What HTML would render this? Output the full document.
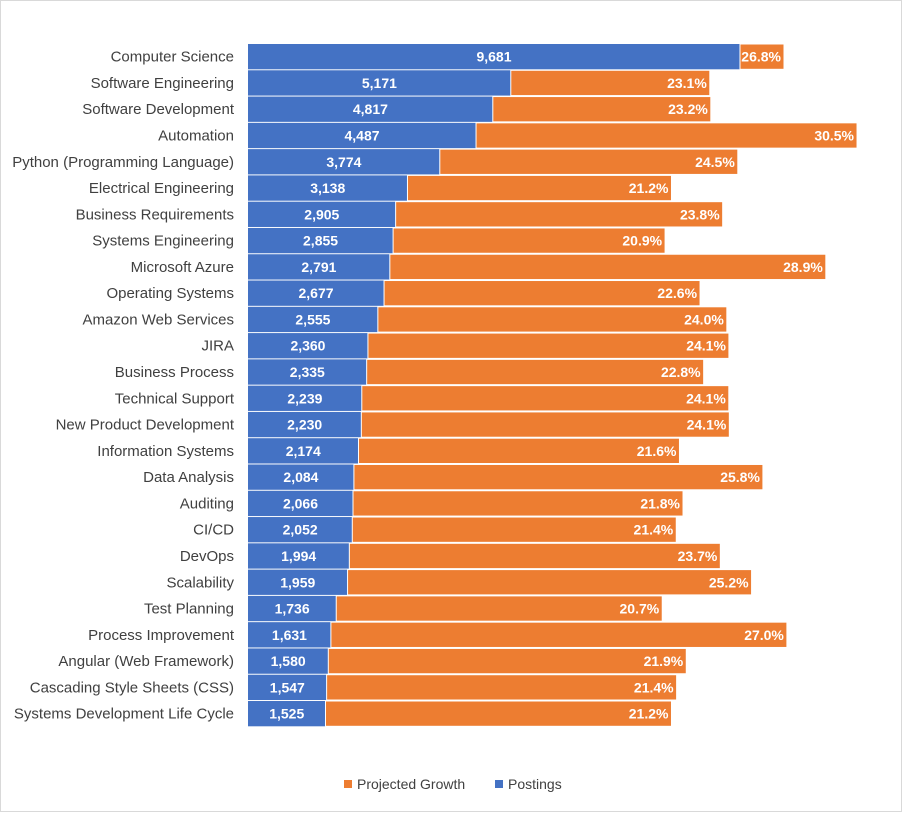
<!DOCTYPE html>
<html><head><meta charset="utf-8"><style>
body{margin:0;background:#fff;font-family:"Liberation Sans",Arial,sans-serif}
#wrap{position:relative;width:902px;height:812px;box-sizing:border-box;border:1px solid #d9d9d9}
</style></head><body>
<div id="wrap">
<svg id="chart" width="900" height="810"></svg>
</div>
<script>
const categories=["Computer Science","Software Engineering","Software Development","Automation","Python (Programming Language)","Electrical Engineering","Business Requirements","Systems Engineering","Microsoft Azure","Operating Systems","Amazon Web Services","JIRA","Business Process","Technical Support","New Product Development","Information Systems","Data Analysis","Auditing","CI/CD","DevOps","Scalability","Test Planning","Process Improvement","Angular (Web Framework)","Cascading Style Sheets (CSS)","Systems Development Life Cycle"];
const postings=[9681,5171,4817,4487,3774,3138,2905,2855,2791,2677,2555,2360,2335,2239,2230,2174,2084,2066,2052,1994,1959,1736,1631,1580,1547,1525];
const growthLabels=["26.8%","23.1%","23.2%","30.5%","24.5%","21.2%","23.8%","20.9%","28.9%","22.6%","24.0%","24.1%","22.8%","24.1%","24.1%","21.6%","25.8%","21.8%","21.4%","23.7%","25.2%","20.7%","27.0%","21.9%","21.4%","21.2%"];
const growthValues=[866,3916,4290,7497,5864,5195,6435,5352,8579,6218,6867,7103,6631,7222,7241,6316,8048,6494,6375,7300,7950,6415,8973,7044,6887,6808];
const NS="http://www.w3.org/2000/svg",svg=document.getElementById('chart');
const x0=247,pxPer=0.05082;
function xs(v){return x0+v*pxPer;}
function yRow(i){return 43+i*26.28;}
const bh=25.3;
function el(t,a,txt){const e=document.createElementNS(NS,t);for(const k in a)e.setAttribute(k,a[k]);if(txt!=null)e.textContent=txt;svg.appendChild(e);return e;}
categories.forEach((c,i)=>{
 const y=yRow(i),bEnd=xs(postings[i]),oEnd=xs(postings[i]+growthValues[i]);
 const b=el('rect',{x:x0,y:y,width:bEnd-x0,height:bh,fill:'#4472C4'});
 
 
 const o=el('rect',{x:bEnd,y:y,width:oEnd-bEnd,height:bh,fill:'#ED7D31',stroke:'#fff','stroke-width':1});
 
 
 const lb=el('text',{x:(x0+bEnd)/2,y:y+bh/2+5,'text-anchor':'middle','font-size':14,'font-weight':'bold',fill:'#fff'},postings[i].toLocaleString('en-US'));
 
 
 const lo=el('text',{x:oEnd-3,y:y+bh/2+5,'text-anchor':'end','font-size':14,'font-weight':'bold',fill:'#fff'},growthLabels[i]);
 
 
 const lc=el('text',{x:233,y:y+bh/2+5,'text-anchor':'end','font-size':15,fill:'#404040'},c);
 
 
});
const g=[[343,'#ED7D31','Projected Growth'],[494,'#4472C4','Postings']];
g.forEach(([x,col,t])=>{
 const r=el('rect',{x:x,y:779,width:8,height:8,fill:col});
 
 
 const tx=el('text',{x:x+13,y:788,'font-size':14,fill:'#404040'},t);
 
 
});
</script>
</body></html>
